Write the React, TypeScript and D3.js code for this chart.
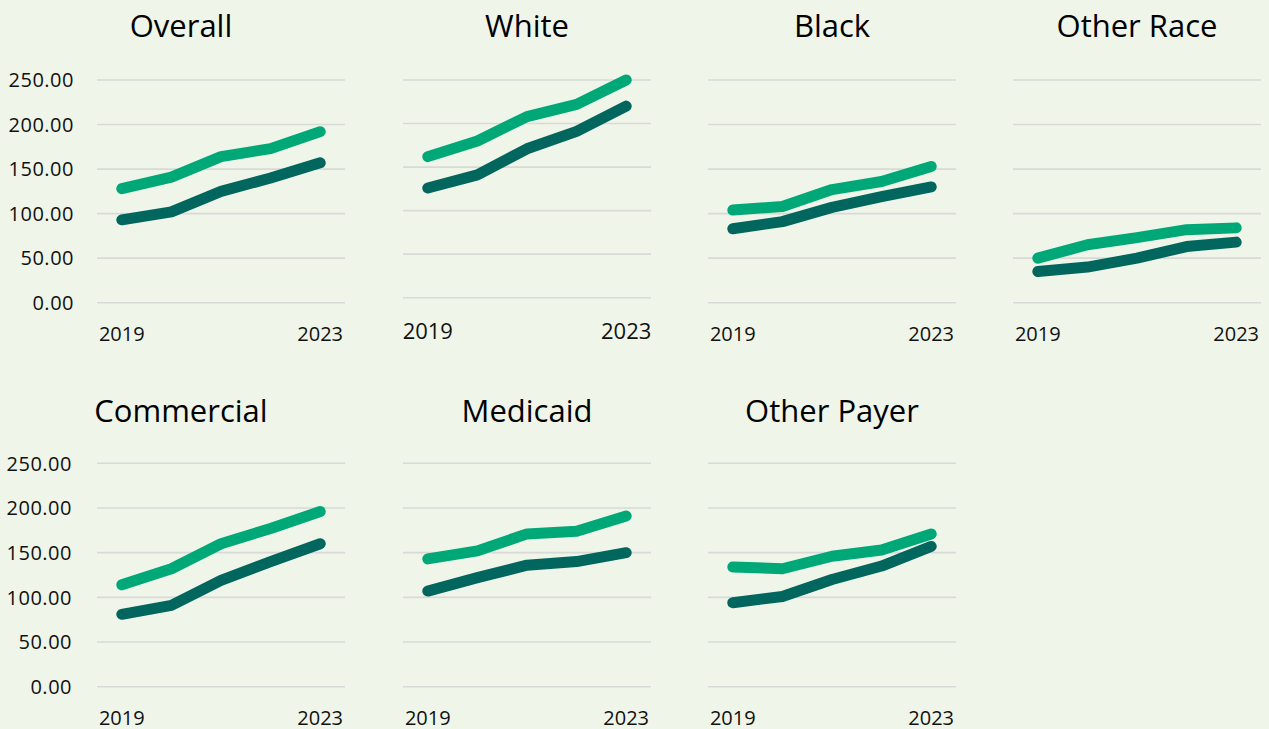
import React from "react";
import * as d3 from "d3";

const years = [2019, 2020, 2021, 2022, 2023];
const yTicks = [0, 50, 100, 150, 200, 250];
const titles = ["Overall", "White", "Black", "Other Race", "Commercial", "Medicaid", "Other Payer"];

const lightSeries = [
  [128, 141, 164, 173, 192],
  [162, 180, 208, 222, 250],
  [104, 108, 127, 136, 153],
  [50, 65, 73, 82, 84],
  [114, 132, 160, 177, 196],
  [143, 152, 171, 174, 191],
  [134, 132, 146, 153, 171],
];
const darkSeries = [
  [93, 102, 125, 140, 157],
  [126, 141, 171, 191, 220],
  [83, 91, 107, 119, 130],
  [35, 40, 50, 63, 68],
  [81, 91, 119, 140, 160],
  [107, 122, 136, 140, 150],
  [94, 101, 120, 135, 157],
];

const BG = "#eff5e8";
const LIGHT = "#00a878";
const DARK = "#00665e";
const GRID = "#d9d9d9";
const FONT = "'Open Sans', sans-serif";

type Layout = { left: number; top: number; bottom: number; yearY: number; yearSize: number; titleY: number; titleX: number; axis: boolean; axisRight: number };

const colLefts = [97, 403, 708, 1013];
const panelW = 248;

function layoutFor(i: number): Layout {
  const row = i < 4 ? 0 : 1;
  const col = i < 4 ? i : i - 4;
  const left = colLefts[col];
  const top = row === 0 ? 80 : 463.3;
  let bottom = row === 0 ? 302.7 : 686.7;
  let yearY = row === 0 ? 340.5 : 724.5;
  let yearSize = 20;
  if (i === 1) {
    bottom = 297.7;
    yearY = 339.3;
    yearSize = 22;
  }
  const titleY = row === 0 ? 37 : 421.5;
  const titleX = col === 0 ? 181 : left + panelW / 2;
  return { left, top, bottom, yearY, yearSize, titleY, titleX, axis: col === 0, axisRight: row === 0 ? 74 : 72 };
}

function Panel({ i }: { i: number }) {
  const L = layoutFor(i);
  const x = d3.scalePoint<number>().domain(years).range([L.left, L.left + panelW]).padding(0.5);
  const y = d3.scaleLinear().domain([0, 250]).range([L.bottom, L.top]);
  const line = d3
    .line<number>()
    .x((_, k) => x(years[k]) as number)
    .y((v) => y(v));
  const first = years[0];
  const last = years[years.length - 1];
  return (
    <g>
      <text x={L.titleX} y={L.titleY} textAnchor="middle" fontFamily={FONT} fontSize={31} fill="#000">
        {titles[i]}
      </text>
      {yTicks.map((t) => (
        <line key={t} x1={L.left} x2={L.left + panelW} y1={y(t)} y2={y(t)} stroke={GRID} strokeWidth={1.6} />
      ))}
      {L.axis &&
        yTicks.map((t) => (
          <text key={"l" + t} x={L.axisRight} y={y(t)} dy="0.36em" textAnchor="end" fontFamily={FONT} fontSize={20} letterSpacing={0.5} fill="#111">
            {t.toFixed(2)}
          </text>
        ))}
      <text x={x(first)} y={L.yearY} textAnchor="middle" fontFamily={FONT} fontSize={L.yearSize} fill="#111">
        {first}
      </text>
      <text x={x(last)} y={L.yearY} textAnchor="middle" fontFamily={FONT} fontSize={L.yearSize} fill="#111">
        {last}
      </text>
      <path d={line(darkSeries[i]) || ""} fill="none" stroke={DARK} strokeWidth={11} strokeLinecap="round" strokeLinejoin="round" />
      <path d={line(lightSeries[i]) || ""} fill="none" stroke={LIGHT} strokeWidth={11} strokeLinecap="round" strokeLinejoin="round" />
    </g>
  );
}

export default function App() {
  return (
    <svg
      width={1269}
      height={729}
      style={{ position: "absolute", left: 0, top: 0, background: BG, display: "block" }}
    >
      <rect x={0} y={0} width={1269} height={729} fill={BG} />
      {titles.map((_, i) => (
        <Panel key={i} i={i} />
      ))}
    </svg>
  );
}
